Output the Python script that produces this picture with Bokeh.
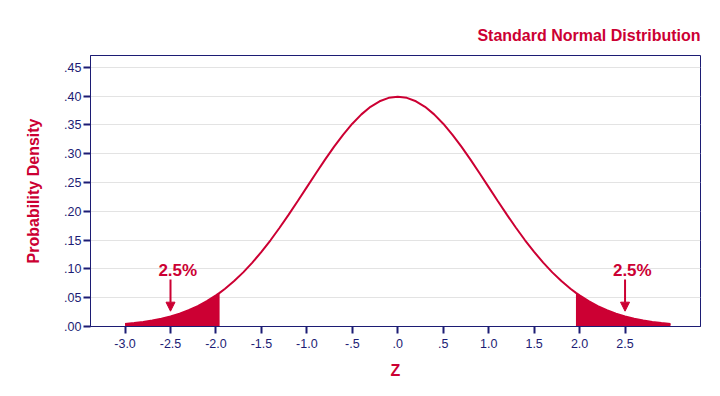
from bokeh.plotting import figure
from bokeh.models import Range1d, FixedTicker, Arrow, NormalHead, ColumnDataSource
from bokeh.core.properties import value
from bokeh.embed import file_html
from bokeh.resources import INLINE

# ---- data ----
z = [-3.0, -2.9, -2.8, -2.7, -2.6, -2.5, -2.4, -2.3, -2.2, -2.1, -2.0, -1.96,
     -1.9, -1.8, -1.7, -1.6, -1.5, -1.4, -1.3, -1.2, -1.1, -1.0, -0.9, -0.8,
     -0.7, -0.6, -0.5, -0.4, -0.3, -0.2, -0.1, 0.0, 0.1, 0.2, 0.3, 0.4, 0.5,
     0.6, 0.7, 0.8, 0.9, 1.0, 1.1, 1.2, 1.3, 1.4, 1.5, 1.6, 1.7, 1.8, 1.9,
     1.96, 2.0, 2.1, 2.2, 2.3, 2.4, 2.5, 2.6, 2.7, 2.8, 2.9, 3.0]
density = [0.0044, 0.0060, 0.0079, 0.0104, 0.0136, 0.0175, 0.0224, 0.0283,
           0.0355, 0.0440, 0.0540, 0.0584, 0.0656, 0.0790, 0.0940, 0.1109,
           0.1295, 0.1497, 0.1714, 0.1942, 0.2179, 0.2420, 0.2661, 0.2897,
           0.3123, 0.3332, 0.3521, 0.3683, 0.3814, 0.3910, 0.3970, 0.3989,
           0.3970, 0.3910, 0.3814, 0.3683, 0.3521, 0.3332, 0.3123, 0.2897,
           0.2661, 0.2420, 0.2179, 0.1942, 0.1714, 0.1497, 0.1295, 0.1109,
           0.0940, 0.0790, 0.0656, 0.0584, 0.0540, 0.0440, 0.0355, 0.0283,
           0.0224, 0.0175, 0.0136, 0.0104, 0.0079, 0.0060, 0.0044]
critical = 1.96

x_ticks = [-3.0, -2.5, -2.0, -1.5, -1.0, -0.5, 0.0, 0.5, 1.0, 1.5, 2.0, 2.5]
x_tick_labels = ["-3.0", "-2.5", "-2.0", "-1.5", "-1.0", "-.5", ".0", ".5",
                 "1.0", "1.5", "2.0", "2.5"]
y_ticks = [0.0, 0.05, 0.10, 0.15, 0.20, 0.25, 0.30, 0.35, 0.40, 0.45]
y_tick_labels = [".00", ".05", ".10", ".15", ".20", ".25", ".30", ".35",
                 ".40", ".45"]

tail_label = ["2.5%", "2.5%"]
tail_z = [-2.5, 2.5]
arrow_top = 0.0816
arrow_tip = 0.0266
label_z = [-2.42, 2.58]
label_y = [0.0975, 0.0975]

# ---- styling ----
RED = "#cc0033"
NAVY = "#1c1c74"
FONT = "Liberation Sans"

p = figure(width=720, height=396, output_backend="svg", toolbar_location=None,
           x_range=Range1d(-3.38, 3.33), y_range=Range1d(0, 0.4705),
           min_border_left=90, min_border_right=20, min_border_top=55,
           min_border_bottom=70)

p.title.text = "Standard Normal Distribution"
p.title.align = "right"
p.title.text_color = RED
p.title.text_font = FONT
p.title.text_font_size = "16px"
p.title.text_font_style = "bold"
p.title.standoff = 24

p.outline_line_color = NAVY
p.outline_line_width = 1
p.background_fill_color = "white"
p.border_fill_color = "white"

p.xgrid.visible = False
p.ygrid.grid_line_color = "#e3e3e3"
p.ygrid.grid_line_width = 1
p.ygrid.ticker = FixedTicker(ticks=y_ticks)

for ax in (p.xaxis[0], p.yaxis[0]):
    ax.axis_line_color = NAVY
    ax.axis_line_width = 1
    ax.major_tick_line_color = NAVY
    ax.major_tick_line_width = 2
    ax.major_tick_in = 0
    ax.major_tick_out = 7
    ax.minor_tick_line_color = None
    ax.major_label_text_color = NAVY
    ax.major_label_text_font = FONT
    ax.major_label_text_font_size = "12.5px"
    ax.axis_label_text_color = RED
    ax.axis_label_text_font = FONT
    ax.axis_label_text_font_style = "bold"
    ax.axis_label_text_font_size = "16px"

p.xaxis.ticker = FixedTicker(ticks=x_ticks)
p.xaxis.major_label_overrides = dict(zip(x_ticks, x_tick_labels))
p.xaxis.axis_label = "Z"
p.xaxis.major_label_standoff = 5
p.xaxis.axis_label_standoff = 11

p.yaxis.ticker = FixedTicker(ticks=y_ticks)
p.yaxis.major_label_overrides = dict(zip(y_ticks, y_tick_labels))
p.yaxis.axis_label = "Probability Density"
p.yaxis.major_label_standoff = 2
p.yaxis.axis_label_standoff = 19

# shaded tails
left_z = [a for a in z if a <= -critical]
left_d = [d for a, d in zip(z, density) if a <= -critical]
right_z = [a for a in z if a >= critical]
right_d = [d for a, d in zip(z, density) if a >= critical]
p.varea(x=left_z, y1=0, y2=left_d, fill_color=RED)
p.varea(x=right_z, y1=0, y2=right_d, fill_color=RED)

# curve
p.line(z, density, line_color=RED, line_width=2)

# arrows
for tz in tail_z:
    p.add_layout(Arrow(end=NormalHead(size=9, fill_color=RED, line_color=RED,
                                      line_width=1),
                       x_start=tz, y_start=arrow_top, x_end=tz, y_end=arrow_tip,
                       line_color=RED, line_width=2))

src = ColumnDataSource(dict(x=label_z, y=label_y, t=tail_label))
p.text(x="x", y="y", text="t", source=src, text_color=RED,
       text_font=value(FONT), text_font_style="bold", text_font_size="17px",
       text_align="center", text_baseline="alphabetic")

open("out.html", "w").write(file_html(p, INLINE))
